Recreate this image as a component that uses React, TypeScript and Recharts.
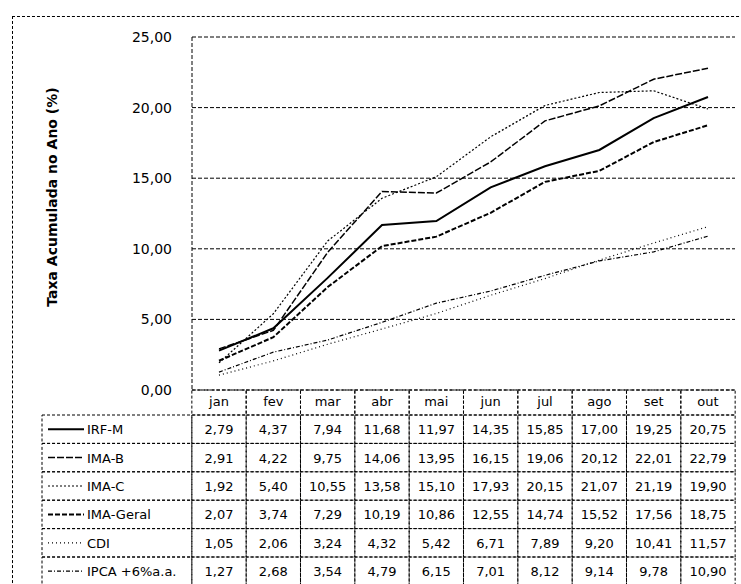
import { LineChart, Line, XAxis, YAxis, CartesianGrid } from 'recharts';

const months = ['jan', 'fev', 'mar', 'abr', 'mai', 'jun', 'jul', 'ago', 'set', 'out'];
const irfM = [2.79, 4.37, 7.94, 11.68, 11.97, 14.35, 15.85, 17.0, 19.25, 20.75];
const imaB = [2.91, 4.22, 9.75, 14.06, 13.95, 16.15, 19.06, 20.12, 22.01, 22.79];
const imaC = [1.92, 5.4, 10.55, 13.58, 15.1, 17.93, 20.15, 21.07, 21.19, 19.9];
const imaGeral = [2.07, 3.74, 7.29, 10.19, 10.86, 12.55, 14.74, 15.52, 17.56, 18.75];
const cdi = [1.05, 2.06, 3.24, 4.32, 5.42, 6.71, 7.89, 9.2, 10.41, 11.57];
const ipca6 = [1.27, 2.68, 3.54, 4.79, 6.15, 7.01, 8.12, 9.14, 9.78, 10.9];
const yTicks = [0, 5, 10, 15, 20, 25];

const series = [
  { key: 'irfM', name: 'IRF-M', values: irfM, width: 2, dash: undefined },
  { key: 'imaB', name: 'IMA-B', values: imaB, width: 1.5, dash: '7 2' },
  { key: 'imaC', name: 'IMA-C', values: imaC, width: 1.2, dash: '2 2' },
  { key: 'imaGeral', name: 'IMA-Geral', values: imaGeral, width: 2, dash: '5 2' },
  { key: 'cdi', name: 'CDI', values: cdi, width: 1.2, dash: '1 3' },
  { key: 'ipca6', name: 'IPCA +6%a.a.', values: ipca6, width: 1.2, dash: '4 2 1 2' },
];

const data = months.map((m, i) => {
  const row: Record<string, string | number> = { month: m };
  series.forEach((s) => (row[s.key] = s.values[i]));
  return row;
});

const FONT = '"DejaVu Sans", Verdana, sans-serif';
const COL_W = 54.3;
const HEAD_H = 25;
const ROW_H = 28.4;
const LABEL_X = 42;
const fmt = (v: number) => v.toFixed(2).replace('.', ',');

const cell = { fill: 'none', stroke: '#000', strokeWidth: 1, strokeDasharray: '3 2' };

// each x tick draws one column of the data table under the plot
const TableColumn = (props: any) => {
  const { x, y, payload } = props;
  const idx = months.indexOf(payload.value);
  const left = x - COL_W / 2;
  return (
    <g fontFamily={FONT} fontSize={13} fill="#000">
      <rect x={left} y={y} width={COL_W} height={HEAD_H} {...cell} />
      <text x={x} y={y + HEAD_H / 2 + 3} textAnchor="middle" fill="#000">
        {payload.value}
      </text>
      {series.map((s, i) => {
        const top = y + HEAD_H + i * ROW_H;
        return (
          <g key={s.key}>
            <rect x={left} y={top} width={COL_W} height={ROW_H} {...cell} />
            <text x={x} y={top + ROW_H / 2 + 5} textAnchor="middle" fill="#000">
              {fmt(s.values[idx])}
            </text>
          </g>
        );
      })}
      {idx === 0 &&
        series.map((s, i) => {
          const top = y + HEAD_H + i * ROW_H;
          const w = left - LABEL_X;
          const cy = top + ROW_H / 2;
          return (
            <g key={'lbl' + s.key}>
              <rect x={LABEL_X} y={top} width={w} height={ROW_H} {...cell} />
              <line
                x1={LABEL_X + 6}
                x2={LABEL_X + 42}
                y1={cy}
                y2={cy}
                stroke="#000"
                strokeWidth={s.width}
                strokeDasharray={s.dash}
              />
              <text x={LABEL_X + 45} y={cy + 5} fill="#000">
                {s.name}
              </text>
            </g>
          );
        })}
    </g>
  );
};

export default function App() {
  return (
    <div
      style={{
        position: 'absolute',
        left: 0,
        top: 0,
        width: 741,
        height: 584,
        overflow: 'hidden',
        background: '#fff',
      }}
    >
      <div
        style={{
          position: 'absolute',
          left: 12,
          top: 16,
          width: 760,
          height: 600,
          border: '1px dashed #000',
        }}
      />
      <div style={{ position: 'absolute', left: 0, top: 0 }}>
        <LineChart
          width={741}
          height={584}
          data={data}
          margin={{ top: 37, right: 6, left: 132, bottom: 0 }}
        >
          <CartesianGrid vertical={false} stroke="#000" strokeDasharray="4 2" />
          <XAxis
            dataKey="month"
            height={194}
            padding={{ left: 27, right: 27 }}
            axisLine={false}
            tickLine={false}
            tickSize={0}
            tickMargin={0}
            interval={0}
            tick={TableColumn}
          />
          <YAxis
            width={60}
            domain={[0, 25]}
            ticks={yTicks}
            tickFormatter={fmt}
            tickLine={false}
            tickSize={6}
            tickMargin={14}
            axisLine={{ stroke: '#000', strokeDasharray: '4 2' }}
            tick={{ fill: '#000', fontSize: 14, fontFamily: FONT }}
          />
          {series.map((s) => (
            <Line
              key={s.key}
              dataKey={s.key}
              name={s.name}
              type="linear"
              stroke="#000"
              strokeWidth={s.width}
              strokeDasharray={s.dash}
              dot={false}
              isAnimationActive={false}
            />
          ))}
        </LineChart>
      </div>
      <svg
        width={741}
        height={584}
        style={{ position: 'absolute', left: 0, top: 0, pointerEvents: 'none' }}
      >
        <text
          transform="translate(57,197) rotate(-90)"
          textAnchor="middle"
          fontFamily={FONT}
          fontWeight="bold"
          fontSize={14}
          fill="#000"
        >
          Taxa Acumulada no Ano (%)
        </text>
      </svg>
    </div>
  );
}
